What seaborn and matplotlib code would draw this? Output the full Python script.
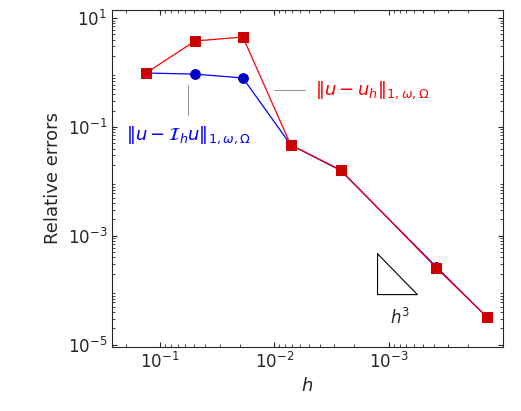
import numpy as np
import pandas as pd
import matplotlib
matplotlib.use("Agg")
import matplotlib.pyplot as plt
import seaborn as sns

# values (log10)
h = 10 ** np.array([-0.878, -1.306, -1.725, -2.144, -2.581, -3.419, -3.865])
err_h = 10 ** np.array([-0.01, 0.578, 0.651, -1.33, -1.79, -3.59, -4.50])
err_i = 10 ** np.array([-0.01, -0.03, -0.10, -1.33, -1.80, -3.57, -4.50])

sns.set_style("ticks")
plt.rcParams['font.family'] = ['DejaVu Sans']
plt.rcParams['mathtext.fontset'] = 'dejavusans'

df = pd.concat([
    pd.DataFrame({"h": h, "err": err_i, "kind": "interp"}),
    pd.DataFrame({"h": h, "err": err_h, "kind": "fem"}),
])

fig = plt.figure(figsize=(5.21, 4.11), dpi=100)
ax = fig.add_axes([0.215, 0.156, 0.75, 0.82])
sns.lineplot(data=df, x="h", y="err", hue="kind", style="kind",
             palette={"interp": "#0000ff", "fem": "#ff0000"},
             markers={"interp": "o", "fem": "s"}, dashes=False,
             markersize=7, linewidth=0.9, legend=False, ax=ax)
for l, c in zip(ax.lines, ["#0000cc", "#cc0000"]):
    l.set_markerfacecolor(c)
    l.set_markeredgecolor(c)

ax.set_xscale("log")
ax.set_yscale("log")
ax.set_xlim(10 ** -0.58, 10 ** -4.0)
ax.set_ylim(10 ** -5.04, 10 ** 1.15)
ax.set_xticks([1e-1, 1e-2, 1e-3])
ax.set_yticks([1e1, 1e-1, 1e-3, 1e-5])
ax.tick_params(which="both", direction="in", top=True, right=True, labelsize=12)
ax.tick_params(which="minor", length=2)
ax.set_xlabel("$h$", fontsize=13)
ax.set_ylabel("Relative errors", fontsize=13)

# slope triangle
tx = 10 ** np.array([-2.904, -2.904, -3.253, -2.904])
ty = 10 ** np.array([-3.33, -4.08, -4.08, -3.33])
ax.plot(tx, ty, color="black", linewidth=0.8)
ax.text(10 ** -3.10, 10 ** -4.5, "$h^3$", fontsize=12, ha="center", va="center")

# labels
ax.plot([10 ** -2.0, 10 ** -2.266], [10 ** -0.32] * 2, color="gray", linewidth=0.6)
ax.text(10 ** -2.36, 10 ** -0.32, r"$\Vert u - u_h\Vert_{1,\omega,\Omega}$",
        color="#ff0000", fontsize=13, ha="left", va="center")
ax.plot([10 ** -1.245] * 2, [10 ** -0.23, 10 ** -0.78], color="gray", linewidth=0.6)
ax.text(10 ** -1.245, 10 ** -1.15, r"$\Vert u - \mathcal{I}_h u\Vert_{1,\omega,\Omega}$",
        color="#0000ff", fontsize=13, ha="center", va="center")

fig.savefig("out.png", dpi=100)
